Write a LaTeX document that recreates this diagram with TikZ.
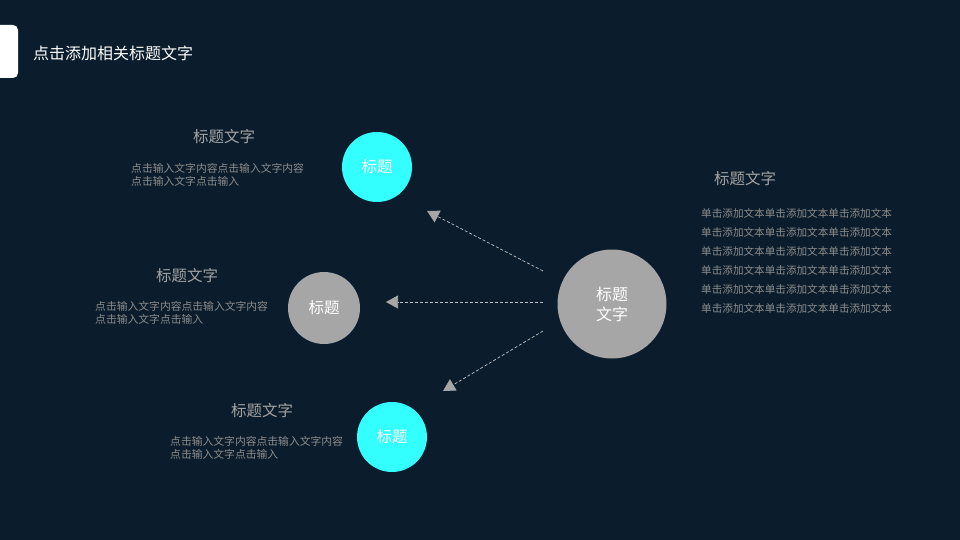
\documentclass[tikz,border=0pt]{standalone}
\usepackage{fontspec}
\setmainfont{Noto Sans CJK SC}
\usetikzlibrary{arrows.meta}
\definecolor{bg}{HTML}{0B1D2C}
\definecolor{cyanc}{HTML}{33FFFF}
\definecolor{grayc}{HTML}{A6A6A6}
\definecolor{headc}{HTML}{A3A3A3}
\definecolor{bodyc}{HTML}{8C8C8C}
\definecolor{linec}{HTML}{BFBFBF}
\tikzset{
  circ/.style={circle,inner sep=0pt,text=white,font=\fontsize{15.5}{18}\selectfont},
  head/.style={text=headc,font=\fontsize{15.5}{18}\selectfont,inner sep=0pt},
  body/.style={text=bodyc,font=\fontsize{10.8}{13.5}\selectfont,inner sep=0pt,align=left,anchor=north west},
  rbody/.style={text=bodyc,font=\fontsize{10.6}{19}\selectfont,inner sep=0pt,align=left,anchor=north west},
  conn/.style={draw=linec,line width=0.7pt,dash pattern=on 3pt off 2pt,
     -{Triangle[length=12pt,width=13pt,fill=grayc,color=grayc]}}
}
\begin{document}
\begin{tikzpicture}[x=1pt,y=-1pt]
\fill[bg] (0,0) rectangle (960,540);
\useasboundingbox (0,0) rectangle (960,540);
% tab
\fill[white,rounded corners=5pt] (-10,25) rectangle (18,78);
\node[anchor=west,text=white,font=\fontsize{16}{18}\selectfont,inner sep=0pt] (title) at (33,53) {点击添加相关标题文字};
% circles
\node[circ,fill=cyanc,minimum size=70pt] (c1) at (377,167) {标题};
\node[circ,fill=grayc,minimum size=72pt] (c2) at (324,308) {标题};
\node[circ,fill=cyanc,minimum size=70pt] (c3) at (392,437) {标题};
\node[circ,fill=grayc,minimum size=109pt,align=center,font=\fontsize{16}{20}\selectfont] (big) at (612,304) {标题\\文字};
% arrows
\coordinate (s1) at (543,271);
\coordinate (e1) at (427,211);
\coordinate (s2) at (543,302);
\coordinate (e2) at (386,302);
\coordinate (s3) at (543,331);
\coordinate (e3) at (443,391);
\draw[conn] (s1) -- (e1);
\draw[conn] (s2) -- (e2);
\draw[conn] (s3) -- (e3);
% texts
\node[head] (h1) at (224,137) {标题文字};
\node[body] (b1) at (131,163) {点击输入文字内容点击输入文字内容\\点击输入文字点击输入};
\node[head] (h2) at (187,276) {标题文字};
\node[body] (b2) at (95,301) {点击输入文字内容点击输入文字内容\\点击输入文字点击输入};
\node[head] (h3) at (262,411) {标题文字};
\node[body] (b3) at (170,436) {点击输入文字内容点击输入文字内容\\点击输入文字点击输入};
\node[head] (h4) at (745,179) {标题文字};
\node[rbody] (b4) at (701,208) {单击添加文本单击添加文本单击添加文本\\单击添加文本单击添加文本单击添加文本\\单击添加文本单击添加文本单击添加文本\\单击添加文本单击添加文本单击添加文本\\单击添加文本单击添加文本单击添加文本\\单击添加文本单击添加文本单击添加文本};
\end{tikzpicture}
\end{document}
